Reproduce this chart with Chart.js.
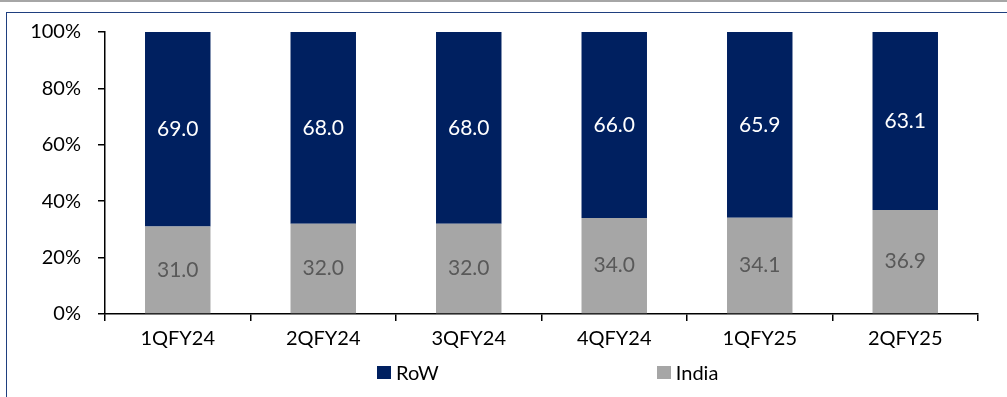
<!DOCTYPE html>
<html>
<head>
<meta charset="utf-8">
<script src="https://cdn.jsdelivr.net/npm/chart.js@4.4.1/dist/chart.umd.min.js"></script>
<style>
  html, body { margin: 0; padding: 0; background: #fff; }
  body { width: 1007px; height: 397px; position: relative; overflow: hidden; font-family: Lato, sans-serif; }
  .topline { position: absolute; left: 0; top: 0; width: 1007px; height: 2px; background: #a6a6a6; }
  .frame { position: absolute; left: 6px; top: 12px; width: 1001px; height: 385px; border-top: 1.5px solid #1f3f7f; border-left: 1.5px solid #1f3f7f; box-sizing: border-box; }
  #wrap { position: absolute; left: 0; top: 0; width: 1007px; height: 397px; }
  #legend { position: absolute; top: 360px; left: 377px; display: flex; gap: 218px; font-size: 20px; color: #000; }
  #legend .item { display: flex; align-items: center; }
  #legend .box { width: 14px; height: 13px; margin-right: 5px; }
</style>
</head>
<body>
<div class="topline"></div>
<div class="frame"></div>
<div id="wrap"><canvas id="chart"></canvas></div>
<div id="legend"></div>
<script>
// quarters and share of revenue (%)
const quarters = ['1QFY24', '2QFY24', '3QFY24', '4QFY24', '1QFY25', '2QFY25'];
const indiaShare = [31.0, 32.0, 32.0, 34.0, 34.1, 36.9];
const rowShare = [69.0, 68.0, 68.0, 66.0, 65.9, 63.1];
const yTicks = [0, 20, 40, 60, 80, 100];

const NAVY = '#002060';
const GREY = '#a6a6a6';
const FONT = 'Lato, sans-serif';

// value labels in the middle of each bar segment
const barLabels = {
  id: 'barLabels',
  afterDatasetsDraw(chart) {
    const ctx = chart.ctx;
    ctx.save();
    ctx.font = '21px ' + FONT;
    ctx.textAlign = 'center';
    ctx.textBaseline = 'middle';
    chart.data.datasets.forEach((ds, i) => {
      const meta = chart.getDatasetMeta(i);
      ctx.fillStyle = ds.labelColor;
      meta.data.forEach((bar, j) => {
        ctx.fillText(ds.data[j].toFixed(1), bar.x, (bar.y + bar.base) / 2);
      });
    });
    ctx.restore();
  }
};

const chart = new Chart(document.getElementById('chart'), {
  type: 'bar',
  data: {
    labels: quarters,
    datasets: [
      { label: 'India', data: indiaShare, backgroundColor: GREY, labelColor: '#595959' },
      { label: 'RoW', data: rowShare, backgroundColor: NAVY, labelColor: '#ffffff' }
    ]
  },
  options: {
    responsive: true,
    maintainAspectRatio: false,
    animation: false,
    devicePixelRatio: 1,
    layout: { padding: { left: 0, top: 32, right: 29, bottom: 0 } },
    datasets: { bar: { barPercentage: 0.45, categoryPercentage: 1.0 } },
    plugins: {
      legend: { display: false },
      tooltip: { enabled: false }
    },
    scales: {
      x: {
        stacked: true,
        afterFit: s => { s.height = 83; },
        border: { color: '#000', width: 1.5 },
        grid: { offset: true, drawOnChartArea: false, drawTicks: true, tickLength: 7, color: '#000', lineWidth: 1.5 },
        ticks: { color: '#000', font: { family: FONT, size: 20 }, padding: 6 }
      },
      y: {
        stacked: true,
        min: 0,
        max: 100,
        afterFit: s => { s.width = 105; },
        afterBuildTicks: s => { s.ticks = yTicks.map(v => ({ value: v })); },
        border: { color: '#000', width: 1.5 },
        grid: { drawOnChartArea: false, drawTicks: true, tickLength: 7, color: '#000', lineWidth: 1.5 },
        ticks: {
          color: '#000',
          font: { family: FONT, size: 20 },
          padding: 17,
          callback: v => v + '%'
        }
      }
    }
  },
  plugins: [barLabels]
});

// legend: RoW first, then India
const legend = document.getElementById('legend');
[chart.data.datasets[1], chart.data.datasets[0]].forEach(ds => {
  const item = document.createElement('div');
  item.className = 'item';
  item.innerHTML = '<span class="box" style="background:' + ds.backgroundColor + '"></span><span>' + ds.label + '</span>';
  legend.appendChild(item);
});
</script>
</body>
</html>
